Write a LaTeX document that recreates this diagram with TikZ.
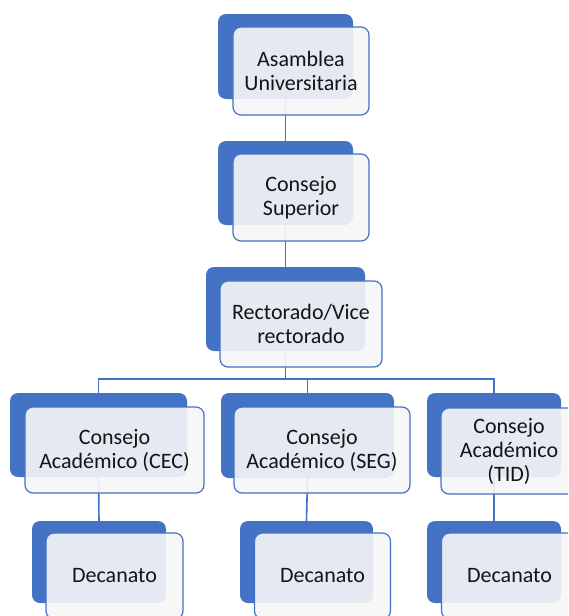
\documentclass[tikz,border=0pt]{standalone}
\usepackage{fontspec}
\setmainfont{Carlito}
\definecolor{blueA}{HTML}{4472C4}
\definecolor{txt}{HTML}{141414}
\tikzset{
  backbox/.style={fill=blueA, draw=none, rounded corners=8pt, inner sep=0pt, outer sep=0pt},
  frontbox/.style={fill=white!97!black, fill opacity=0.9, text opacity=1, draw=blueA, draw opacity=1,
    line width=1.2pt, rounded corners=8pt, inner sep=0pt, outer sep=0pt, align=center, text=txt,
    font=\fontsize{22}{24}\selectfont},
  conn/.style={draw=blueA, line width=1.6pt}
}
\begin{document}
\begin{tikzpicture}[x=1pt,y=-1pt]
\clip (0,0) rectangle (568,616);
\fill[white] (0,0) rectangle (568,616);
% back boxes
\node[backbox, minimum width=135pt, minimum height=85pt] (ab) at (285.5,56.5) {};
\node[backbox, minimum width=135pt, minimum height=84pt] (sb) at (285.5,183) {};
\node[backbox, minimum width=159pt, minimum height=84pt] (rb) at (285.5,309) {};
\node[backbox, minimum width=177pt, minimum height=84pt] (cb) at (98.5,435) {};
\node[backbox, minimum width=173pt, minimum height=85pt] (gb) at (307.5,435.5) {};
\node[backbox, minimum width=134pt, minimum height=84pt] (tb) at (494,435) {};
\node[backbox, minimum width=134pt, minimum height=82pt] (d1b) at (99,562) {};
\node[backbox, minimum width=133pt, minimum height=82pt] (d2b) at (306.5,562) {};
\node[backbox, minimum width=134pt, minimum height=82pt] (d3b) at (494,562) {};
% connectors
\draw[conn] (ab.south) -- (sb.north);
\draw[conn] (sb.south) -- (rb.north);
\draw[conn] (rb.south) -- ++(0,28) -| (cb.north);
\draw[conn] (rb.south) -- ++(0,28) -| (gb.north);
\draw[conn] (rb.south) -- ++(0,28) -| (tb.north);
\draw[conn] (cb.south) -- (d1b.north);
\draw[conn] (gb.south) -- (d2b.north);
\draw[conn] (tb.south) -- (d3b.north);
% front boxes
\node[frontbox, minimum width=136pt, minimum height=88pt] (af) at (301,71) {Asamblea\\Universitaria};
\node[frontbox, minimum width=136pt, minimum height=87pt] (sf) at (301,197.5) {Consejo\\Superior};
\node[frontbox, minimum width=162pt, minimum height=86pt] (rf) at (301,324) {Rectorado/Vice\\rectorado};
\node[frontbox, minimum width=179pt, minimum height=86pt] (cf) at (114.5,450) {Consejo\\Académico (CEC)};
\node[frontbox, minimum width=176pt, minimum height=86pt] (gf) at (322,450) {Consejo\\Académico (SEG)};
\node[frontbox, minimum width=136pt, minimum height=86pt] (tf) at (509,451) {Consejo\\Académico\\(TID)};
\node[frontbox, minimum width=137pt, minimum height=86pt] (d1f) at (114.5,576) {Decanato};
\node[frontbox, minimum width=136pt, minimum height=86pt] (d2f) at (322.5,576) {Decanato};
\node[frontbox, minimum width=136pt, minimum height=86pt] (d3f) at (509.5,576) {Decanato};
\end{tikzpicture}
\end{document}
